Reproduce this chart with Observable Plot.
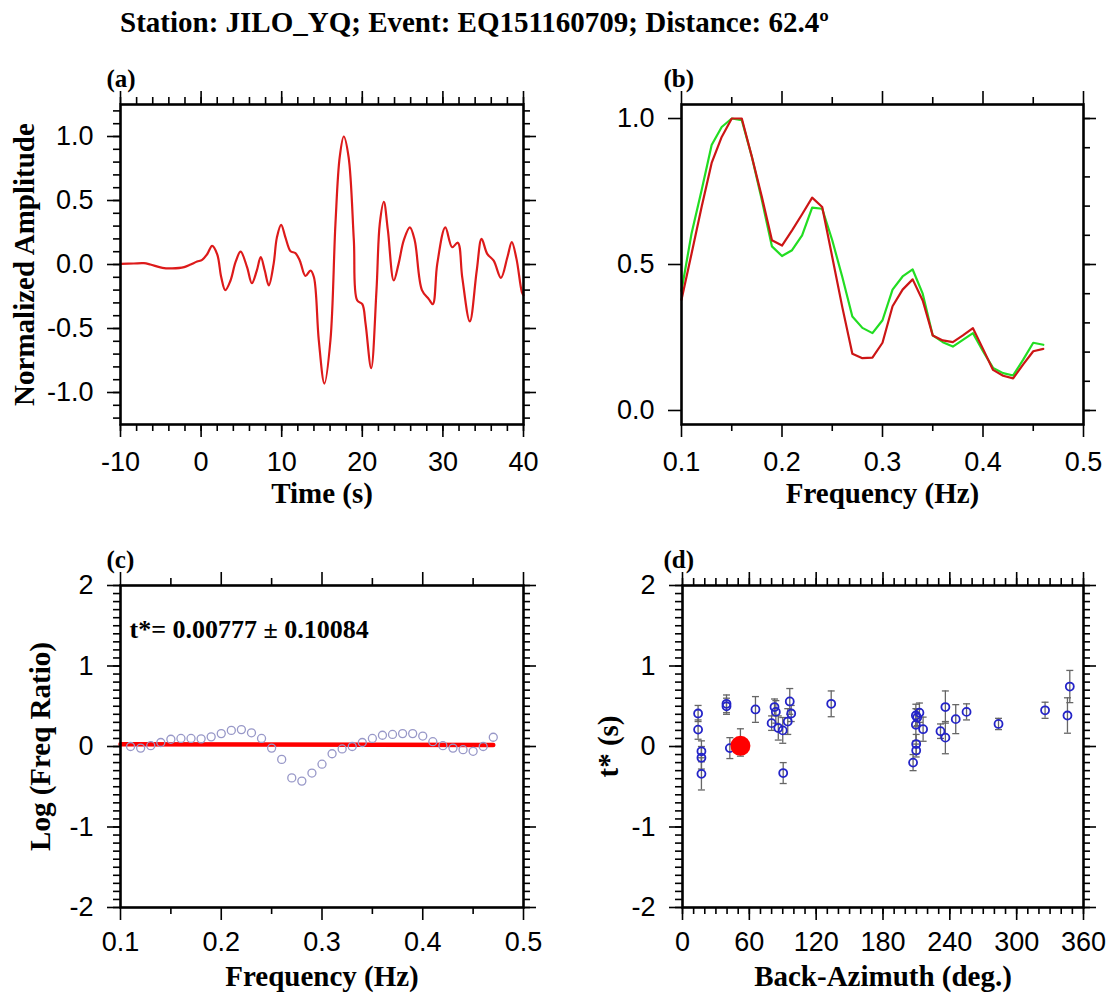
<!DOCTYPE html>
<html><head><meta charset="utf-8">
<script src="https://cdn.jsdelivr.net/npm/d3@7"></script>
<script src="https://cdn.jsdelivr.net/npm/@observablehq/plot@0.6"></script>
<style>
body{margin:0;background:#fff;width:1115px;height:997px;position:relative;overflow:hidden;}
#title{position:absolute;left:120px;top:6px;font:bold 29px 'Liberation Serif','Times New Roman',serif;white-space:nowrap;color:#000;}
.panel{position:absolute;}
.over{position:absolute;z-index:5;}
</style></head><body>
<div id="title">Station: JILO_YQ; Event: EQ151160709; Distance: 62.4º</div>
<div id="pa" class="panel" style="left:0px;top:50px;width:560px;height:470px"></div>
<div id="pb" class="panel" style="left:560px;top:50px;width:555px;height:470px"></div>
<div id="pc" class="panel" style="left:0px;top:530px;width:560px;height:467px"></div>
<div id="pd" class="panel" style="left:560px;top:530px;width:555px;height:467px"></div>
<div id="oa" class="over" style="left:0px;top:50px;width:560px;height:470px"></div>
<div id="ob" class="over" style="left:560px;top:50px;width:555px;height:470px"></div>
<div id="oc" class="over" style="left:0px;top:530px;width:560px;height:467px"></div>
<div id="od" class="over" style="left:560px;top:530px;width:555px;height:467px"></div>
<script>
// ---------- Panel (a): waveform ----------
const timeS = [-10,-8.35,-7.1,-6.3,-4.8,-3.6,-2.1,-1.3,-0.5,0.13,0.75,1.37,2.0,2.5,3.0,3.65,4.27,4.9,5.7,6.3,6.9,7.4,7.9,8.4,9.0,9.4,9.93,10.47,11.1,11.7,12.25,12.95,13.57,14.0,14.6,15.3,16.05,16.67,17.2,17.7,18.3,18.95,19.36,20.0,20.4,21.1,21.76,22.17,22.67,23.17,23.9,24.5,25.15,25.9,26.5,27.4,28.25,28.75,29.3,30.3,31.15,31.85,32.4,33.34,34.2,34.8,35.5,36.3,37.2,38.0,38.55,39.13,39.8,40];
const amplitude = [0.005,0.008,0.01,0,-0.026,-0.03,-0.02,0,0.023,0.036,0.08,0.146,0.08,-0.1,-0.2,-0.125,0.018,0.1,-0.02,-0.146,-0.05,0.057,-0.047,-0.164,0.005,0.21,0.31,0.21,0.104,0.089,0.03,-0.09,-0.047,-0.1,-0.59,-0.93,-0.59,0.32,0.84,1.0,0.84,0.19,-0.28,-0.31,-0.46,-0.81,-0.2,0.32,0.49,0.27,-0.125,0.005,0.19,0.29,0.19,-0.2,-0.27,-0.31,0.005,0.29,0.135,0.17,-0.1,-0.445,-0.047,0.2,0.083,0.03,-0.104,0.057,0.175,0.044,-0.216,-0.24];
const aXMajor = [-10,0,10,20,30,40];
const aXMinor = d3.range(-10,41,2);
const aYMajor = [-1,-0.5,0,0.5,1];
const aYMinor = d3.range(-12,13).map(d=>d/10);

// ---------- Panel (b): spectra ----------
const freqB = d3.range(10,47).map(d=>d/100);
const specGreen = [0.41,0.606,0.754,0.909,0.971,1.0,0.994,0.869,0.72,0.562,0.529,0.549,0.6,0.695,0.691,0.583,0.457,0.322,0.283,0.265,0.309,0.414,0.459,0.483,0.4,0.257,0.234,0.219,0.242,0.265,0.203,0.146,0.128,0.12,0.174,0.232,0.225];
const specRed   = [0.379,0.537,0.697,0.848,0.937,1.0,1.0,0.869,0.731,0.583,0.565,0.617,0.672,0.729,0.697,0.526,0.354,0.194,0.179,0.181,0.232,0.357,0.414,0.449,0.377,0.257,0.24,0.234,0.257,0.282,0.211,0.139,0.119,0.11,0.158,0.203,0.211];
const fXMajor = [0.1,0.2,0.3,0.4,0.5];
const fXMinor = [0.15,0.25,0.35,0.45];
const bYMajor = [0,0.5,1];
const bYMinor = d3.range(0,11).map(d=>d/10);

// ---------- Panel (c): log spectral ratio ----------
const freqC = d3.range(11,48).map(d=>d/100);
const logRatio = [0.0,-0.02,0.01,0.05,0.09,0.10,0.10,0.095,0.12,0.16,0.20,0.21,0.17,0.10,-0.02,-0.16,-0.39,-0.43,-0.33,-0.22,-0.09,-0.03,0.0,0.05,0.10,0.14,0.15,0.16,0.16,0.13,0.06,0.01,-0.02,-0.04,-0.06,0.0,0.115];
const fitFreq = [0.10,0.47];
const fitLog = [0.028,0.019];
const cYMajor = [-2,-1,0,1,2];
const cYMinor = d3.range(-20,21).map(d=>d/10);
const tStarText = "t*= 0.00777 ± 0.10084";

// ---------- Panel (d): t* vs back-azimuth ----------
const baz   = [14,14,17,17,17,39.5,39.5,42.5,52,65.5,80,82.6,83.8,86,90,90.4,94.5,96.3,97.6,133.5,207,209.8,209.8,209.5,209.5,210.7,212.7,216,231.6,236,236,245.3,255,283.7,325.5,345.6,347.7];
const tstar = [0.41,0.21,-0.06,-0.14,-0.34,0.53,0.50,-0.02,0.05,0.46,0.29,0.49,0.43,0.23,0.20,-0.33,0.31,0.56,0.41,0.53,-0.20,-0.05,0.03,0.27,0.385,0.36,0.42,0.215,0.19,0.49,0.11,0.34,0.43,0.28,0.45,0.385,0.745];
const terr  = [0.1,0.12,0.13,0.14,0.2,0.11,0.1,0.13,0.17,0.16,0.09,0.1,0.14,0.15,0.16,0.13,0.16,0.16,0.1,0.16,0.1,0.08,0.12,0.2,0.14,0.1,0.12,0.15,0.09,0.2,0.2,0.18,0.1,0.07,0.1,0.22,0.2];
const thisBaz = [52];
const thisT = [0.00777];
const thisErr = [0.10084];
const dXMajor = [0,60,120,180,240,300,360];
const dXMinor = d3.range(0,361,10);

const SANS = "'Liberation Sans', Arial, Helvetica, sans-serif";
const SERIF = "'Liberation Serif', 'Times New Roman', serif";
const TICKFS = 27;
const MAJ = 13, MIN = 7;

// outward ticks on all four sides, expressed through the scales (pixel length -> data units)
function frameAxes(o, xd, yd, W, H) {
  const px = (xd[1] - xd[0]) / W, py = (yd[1] - yd[0]) / H;
  const s = {stroke: "black", strokeWidth: 1.6};
  const m = [];
  for (const [vals, L] of [[o.xMinor, MIN], [o.xMajor, MAJ]]) {
    m.push(Plot.ruleX(vals, {...s, x: d => d, y1: () => yd[0], y2: () => yd[0] - L * py}));
    m.push(Plot.ruleX(vals, {...s, x: d => d, y1: () => yd[1], y2: () => yd[1] + L * py}));
  }
  for (const [vals, L] of [[o.yMinor, MIN], [o.yMajor, MAJ]]) {
    if (L === MAJ || o.yMinorLeft) m.push(Plot.ruleY(vals, {...s, y: d => d, x1: () => xd[0], x2: () => xd[0] - L * px}));
    m.push(Plot.ruleY(vals, {...s, y: d => d, x1: () => xd[1], x2: () => xd[1] + L * px}));
  }
  const c = {label: null, tickSize: 0, fontSize: TICKFS, fontFamily: SANS};
  m.push(Plot.axisX({...c, ticks: o.xMajor, anchor: "bottom", tickPadding: MAJ + o.xPad, tickFormat: o.xFmt}));
  m.push(Plot.axisY({...c, ticks: o.yMajor, anchor: "left", tickPadding: MAJ + 14, tickFormat: o.yFmt}));
  m.push(Plot.frame({stroke: "black", strokeWidth: 2.6}));
  return m;
}
const panelLabel = (s, dx) => Plot.text([s], {frameAnchor: "top-left", textAnchor: "start", lineAnchor: "middle", dx, dy: -26, fontFamily: SERIF, fontWeight: "bold", fontSize: 25});
const xLabel = (s, dy) => Plot.text([s], {frameAnchor: "bottom", textAnchor: "middle", lineAnchor: "middle", dy, fontFamily: SERIF, fontWeight: "bold", fontSize: 29});
const yLabel = (s, dx) => Plot.text([s], {frameAnchor: "left", textAnchor: "middle", lineAnchor: "middle", rotate: -90, dx, fontFamily: SERIF, fontWeight: "bold", fontSize: 29});
const baseStyle = {fontFamily: SANS, fontSize: TICKFS + "px", color: "black", background: "white", overflow: "visible"};
const overStyle = {fontFamily: SANS, fontSize: TICKFS + "px", color: "black", background: "transparent", overflow: "visible"};
const f1 = d => d.toFixed(1);
const f0 = d => String(d);

// draws a panel: data layer below, frame/ticks/labels layer on top (same size & scales)
function panel(baseId, overId, geom, xd, yd, dataMarks, axesOpts, textMarks) {
  const W = geom.width - geom.marginLeft - geom.marginRight;
  const H = geom.height - geom.marginTop - geom.marginBottom;
  document.getElementById(baseId).append(Plot.plot({
    ...geom, style: baseStyle, x: {domain: xd, axis: null}, y: {domain: yd, axis: null},
    marks: dataMarks
  }));
  document.getElementById(overId).append(Plot.plot({
    ...geom, style: overStyle, x: {domain: xd}, y: {domain: yd},
    marks: [...textMarks, ...frameAxes(axesOpts, xd, yd, W, H)]
  }));
}

// (a)
panel("pa", "oa", {width: 560, height: 470, marginLeft: 120, marginRight: 37, marginTop: 54, marginBottom: 96},
  [-10, 40], [-1.25, 1.25],
  [Plot.line(timeS.map((t, i) => ({t, a: amplitude[i]})), {x: "t", y: "a", stroke: "#dd1a1a", strokeWidth: 2.2, curve: "catmull-rom"})],
  {xMajor: aXMajor, xMinor: aXMinor, yMajor: aYMajor, yMinor: aYMinor, yMinorLeft: true, xFmt: f0, yFmt: f1, xPad: 14},
  [panelLabel("(a)", -14), yLabel("Normalized Amplitude", -96), xLabel("Time (s)", 69)]);

// (b)
const specData = freqB.map((f, i) => ({f, g: specGreen[i], r: specRed[i]}));
panel("pb", "ob", {width: 555, height: 470, marginLeft: 121, marginRight: 32, marginTop: 54, marginBottom: 96},
  [0.1, 0.5], [-0.048, 1.048],
  [Plot.line(specData, {x: "f", y: "g", stroke: "#22dd22", strokeWidth: 2.2}),
   Plot.line(specData, {x: "f", y: "r", stroke: "#cc1515", strokeWidth: 2.2})],
  {xMajor: fXMajor, xMinor: fXMinor, yMajor: bYMajor, yMinor: bYMinor, yMinorLeft: false, xFmt: f1, yFmt: f1, xPad: 14},
  [panelLabel("(b)", -18), xLabel("Frequency (Hz)", 69)]);

// (c)
panel("pc", "oc", {width: 560, height: 467, marginLeft: 120, marginRight: 37, marginTop: 55, marginBottom: 90},
  [0.1, 0.5], [-2, 2],
  [Plot.line(fitFreq.map((f, i) => ({f, v: fitLog[i]})), {x: "f", y: "v", stroke: "#ff0000", strokeWidth: 4.5}),
   Plot.dot(freqC.map((f, i) => ({f, v: logRatio[i]})), {x: "f", y: "v", r: 4, stroke: "#9898c8", strokeWidth: 1.3, fill: "none"}),
   Plot.text([tStarText], {frameAnchor: "top-left", textAnchor: "start", lineAnchor: "middle", dx: 9, dy: 44, fontFamily: SERIF, fontWeight: "bold", fontSize: 26})],
  {xMajor: fXMajor, xMinor: fXMinor, yMajor: cYMajor, yMinor: cYMinor, yMinorLeft: true, xFmt: f1, yFmt: f0, xPad: 11},
  [panelLabel("(c)", -14), yLabel("Log (Freq Ratio)", -80), xLabel("Frequency (Hz)", 69)]);

// (d)
const capSymbol = {draw(ctx, size) { const w = Math.sqrt(size / Math.PI); ctx.moveTo(-w, 0); ctx.lineTo(w, 0); }};
const dData = baz.map((b, i) => ({b, t: tstar[i], e: terr[i]}));
const thisData = thisBaz.map((b, i) => ({b, t: thisT[i], e: thisErr[i]}));
panel("pd", "od", {width: 555, height: 467, marginLeft: 122, marginRight: 32, marginTop: 55, marginBottom: 90},
  [0, 360], [-2, 2],
  [Plot.ruleX(dData, {x: "b", y1: d => d.t - d.e, y2: d => d.t + d.e, stroke: "#666", strokeWidth: 1.3}),
   Plot.dot(dData, {x: "b", y: d => d.t - d.e, symbol: capSymbol, r: 3.5, stroke: "#666", strokeWidth: 1.3, fill: "none"}),
   Plot.dot(dData, {x: "b", y: d => d.t + d.e, symbol: capSymbol, r: 3.5, stroke: "#666", strokeWidth: 1.3, fill: "none"}),
   Plot.dot(dData, {x: "b", y: "t", r: 4, stroke: "#2424c8", strokeWidth: 1.8, fill: "none"}),
   Plot.dot(thisData, {x: "b", y: "t", r: 10, fill: "#ff0000", stroke: "none"})],
  {xMajor: dXMajor, xMinor: dXMinor, yMajor: cYMajor, yMinor: cYMinor, yMinorLeft: true, xFmt: f0, yFmt: f0, xPad: 11},
  [panelLabel("(d)", -19), yLabel("t* (s)", -74), xLabel("Back-Azimuth (deg.)", 69)]);

// force a layout pass after building
document.body.getBoundingClientRect();
for (const id of ["oa", "ob", "oc", "od"]) document.getElementById(id).getBoundingClientRect();
</script>
</body></html>
